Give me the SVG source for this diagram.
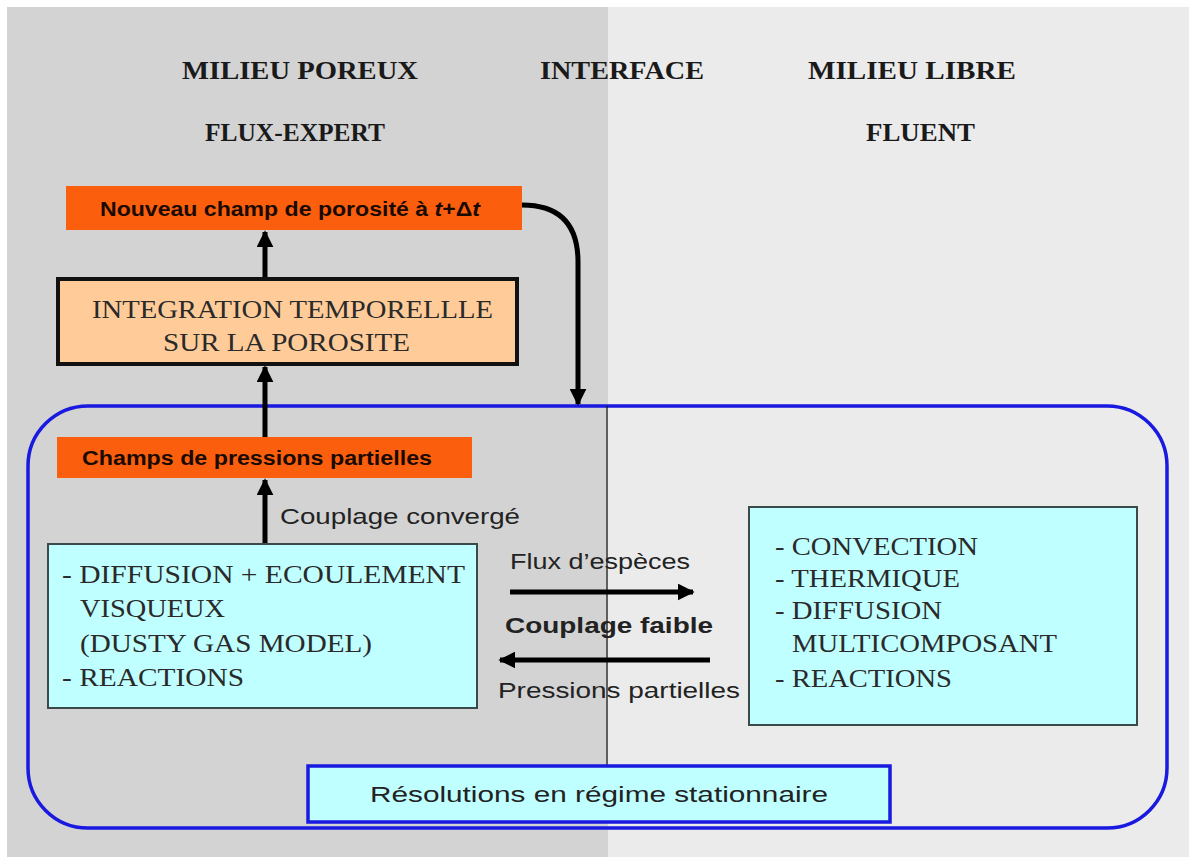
<svg xmlns="http://www.w3.org/2000/svg" width="1189" height="863" viewBox="0 0 1189 863">
<defs>
<style>
.hdr{font-family:"Liberation Serif",serif;font-weight:bold;font-size:25px;fill:#1a1a1a}
.orgtxt{font-family:"Liberation Sans",sans-serif;font-weight:bold;font-size:20px;fill:#1a0a00}
.serif{font-family:"Liberation Serif",serif;font-size:25px;fill:#2a2a2a}
.sans{font-family:"Liberation Sans",sans-serif;font-size:22px;fill:#222}
.orange{fill:#fb5f0d}
.cyan{fill:#c0ffff;stroke:#3a4a4a;stroke-width:2}
.arr{stroke:#000;stroke-width:5;fill:none}
</style>
<marker id="ah" viewBox="0 0 10 10" refX="9" refY="5" markerWidth="3.4" markerHeight="3.4" orient="auto" markerUnits="strokeWidth">
<path d="M0,0 L10,5 L0,10 Z" fill="#000"/>
</marker>
</defs>
<rect x="0" y="0" width="1189" height="863" fill="#ffffff"/>
<rect x="7" y="7" width="601" height="850" fill="#d3d3d3"/>
<rect x="608" y="7" width="581" height="850" fill="#ebebeb"/>

<g id="headers">
<text class="hdr" x="182" y="79" textLength="236" lengthAdjust="spacingAndGlyphs">MILIEU POREUX</text>
<text class="hdr" x="540" y="79" textLength="164" lengthAdjust="spacingAndGlyphs">INTERFACE</text>
<text class="hdr" x="808" y="79" textLength="208" lengthAdjust="spacingAndGlyphs">MILIEU LIBRE</text>
<text class="hdr" x="205" y="141" textLength="180" lengthAdjust="spacingAndGlyphs">FLUX-EXPERT</text>
<text class="hdr" x="866" y="141" textLength="109" lengthAdjust="spacingAndGlyphs">FLUENT</text>
</g>

<g id="loop">
<rect x="28" y="406" width="1139" height="422" rx="60" ry="60" fill="none" stroke="#1919e0" stroke-width="3.5"/>
</g>

<g id="connectors">
<line x1="607" y1="406" x2="607" y2="766" stroke="#111" stroke-width="1.2"/>
<line class="arr" x1="265" y1="278" x2="265" y2="232" marker-end="url(#ah)"/>
<line class="arr" x1="265" y1="437" x2="265" y2="367" marker-end="url(#ah)"/>
<line class="arr" x1="265" y1="543" x2="265" y2="480" marker-end="url(#ah)"/>
<path class="arr" d="M522,205 Q578,205 578,262 L578,404" marker-end="url(#ah)"/>
<line class="arr" x1="510" y1="592" x2="693" y2="592" marker-end="url(#ah)"/>
<line class="arr" x1="710" y1="660" x2="500" y2="660" marker-end="url(#ah)"/>
<text class="sans" x="280" y="524" textLength="240" lengthAdjust="spacingAndGlyphs">Couplage convergé</text>
<text class="sans" x="510" y="569" textLength="180" lengthAdjust="spacingAndGlyphs">Flux d’espèces</text>
<text class="sans" x="505" y="633" font-weight="bold" fill="#111" textLength="208" lengthAdjust="spacingAndGlyphs">Couplage faible</text>
<text class="sans" x="498" y="698" textLength="242" lengthAdjust="spacingAndGlyphs">Pressions partielles</text>
</g>

<g id="nouveau">
<rect class="orange" x="66" y="186" width="456" height="44"/>
<text class="orgtxt" x="100" y="216" textLength="380" lengthAdjust="spacingAndGlyphs">Nouveau champ de porosité à <tspan font-style="italic">t</tspan>+Δ<tspan font-style="italic">t</tspan></text>
</g>

<g id="integration">
<rect x="58" y="279" width="459" height="85" fill="#ffcc99" stroke="#111" stroke-width="4"/>
<text class="serif" x="92" y="318" font-size="26" textLength="401" lengthAdjust="spacingAndGlyphs">INTEGRATION TEMPORELLLE</text>
<text class="serif" x="163" y="351" font-size="26" textLength="247" lengthAdjust="spacingAndGlyphs">SUR LA POROSITE</text>
</g>

<g id="champs">
<rect class="orange" x="57" y="437" width="415" height="41"/>
<text class="orgtxt" x="82" y="465" textLength="350" lengthAdjust="spacingAndGlyphs">Champs de pressions partielles</text>
</g>

<g id="poreux">
<rect class="cyan" x="48" y="544" width="429" height="164"/>
<text class="serif" x="62" y="583" textLength="403" lengthAdjust="spacingAndGlyphs">- DIFFUSION  + ECOULEMENT</text>
<text class="serif" x="80" y="617" textLength="145" lengthAdjust="spacingAndGlyphs">VISQUEUX</text>
<text class="serif" x="80" y="652" textLength="292" lengthAdjust="spacingAndGlyphs">(DUSTY GAS MODEL)</text>
<text class="serif" x="62" y="686" textLength="182" lengthAdjust="spacingAndGlyphs">- REACTIONS</text>
</g>

<g id="libre">
<rect class="cyan" x="749" y="507" width="388" height="218"/>
<text class="serif" x="775" y="555" textLength="203" lengthAdjust="spacingAndGlyphs">- CONVECTION</text>
<text class="serif" x="775" y="587" textLength="185" lengthAdjust="spacingAndGlyphs">- THERMIQUE</text>
<text class="serif" x="775" y="619" textLength="167" lengthAdjust="spacingAndGlyphs">- DIFFUSION</text>
<text class="serif" x="792" y="652" textLength="265" lengthAdjust="spacingAndGlyphs">MULTICOMPOSANT</text>
<text class="serif" x="775" y="687" textLength="177" lengthAdjust="spacingAndGlyphs">- REACTIONS</text>
</g>

<g id="resolutions">
<rect x="308" y="766" width="582" height="56" fill="#c0ffff" stroke="#1919e0" stroke-width="3.5"/>
<text class="sans" x="370" y="802" font-size="24" textLength="458" lengthAdjust="spacingAndGlyphs">Résolutions en régime stationnaire</text>
</g>
</svg>
